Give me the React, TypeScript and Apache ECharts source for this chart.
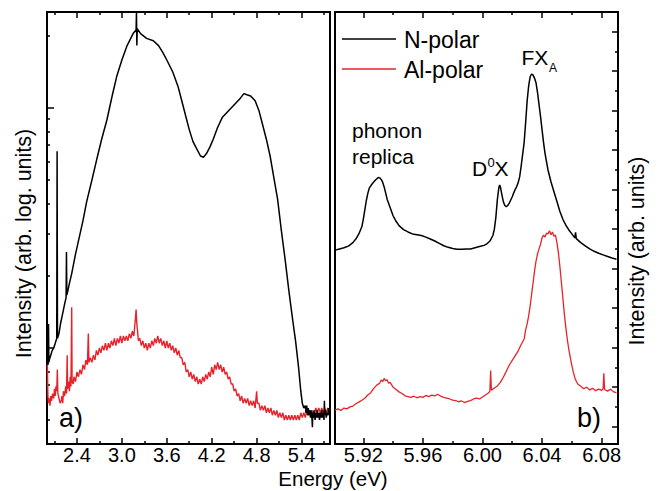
import React, { useEffect, useRef } from "react";
import * as echarts from "echarts";

// ---------- tick values ----------
const leftMajorTicks = [2.4, 3.0, 3.6, 4.2, 4.8, 5.4];
const leftMinorTicks = [2.1, 2.7, 3.3, 3.9, 4.5, 5.1, 5.7];
const rightMajorTicks = [5.92, 5.96, 6.0, 6.04, 6.08];
const rightMinorTicks = [5.94, 5.98, 6.02, 6.06];
// left panel y is in log10 units: decades at 1 and 2
const logMajorTicks = [1, 2];
const logMinorTicks = [0.699, 0.778, 0.845, 0.903, 0.954, 1.301, 1.477, 1.602, 1.699, 1.778, 1.845, 1.903, 1.954, 2.301];
const linMajorTicks = [0, 1, 2, 3, 4, 5, 6, 7, 8, 9, 10];
const linMinorTicks = [0.5, 1.5, 2.5, 3.5, 4.5, 5.5, 6.5, 7.5, 8.5, 9.5];

// ---------- data: panel a) (energy eV, log intensity) ----------
const nPolarWide: number[][] = [
  [2.005, 0.93], [2.01, 1.0], [2.015, 0.93], [2.02, 1.1], [2.025, 0.94], [2.03, 0.95], [2.05, 0.97], [2.07, 0.99],
  [2.09, 1.0], [2.11, 1.02], [2.13, 1.04], [2.135, 1.82], [2.14, 1.04], [2.16, 1.06], [2.18, 1.1], [2.2, 1.13],
  [2.22, 1.16], [2.24, 1.19], [2.255, 1.21], [2.26, 1.4], [2.265, 1.22], [2.28, 1.24], [2.3, 1.27], [2.33, 1.31],
  [2.38, 1.39], [2.43, 1.46], [2.48, 1.53], [2.53, 1.61], [2.6, 1.7], [2.66, 1.78], [2.73, 1.87], [2.8, 1.95],
  [2.87, 2.05], [2.93, 2.13], [3.0, 2.2], [3.07, 2.26], [3.15, 2.31], [3.19, 2.325], [3.195, 2.4], [3.2, 2.26],
  [3.205, 2.33], [3.25, 2.31], [3.33, 2.29], [3.42, 2.28], [3.49, 2.26], [3.55, 2.23], [3.6, 2.2], [3.68, 2.15],
  [3.75, 2.09], [3.8, 2.03], [3.85, 1.97], [3.9, 1.91], [3.95, 1.86], [4.0, 1.83], [4.05, 1.8], [4.09, 1.795],
  [4.13, 1.81], [4.18, 1.84], [4.22, 1.87], [4.28, 1.92], [4.34, 1.96], [4.4, 1.98], [4.46, 2.0], [4.52, 2.02],
  [4.58, 2.04], [4.63, 2.06], [4.67, 2.055], [4.72, 2.05], [4.78, 2.03], [4.83, 1.99], [4.88, 1.93], [4.93, 1.87],
  [4.98, 1.8], [5.03, 1.71], [5.08, 1.62], [5.13, 1.49], [5.18, 1.37], [5.23, 1.24], [5.28, 1.12], [5.32, 1.03],
  [5.36, 0.92], [5.39, 0.82], [5.41, 0.77], [5.43, 0.75], [5.45, 0.76], [5.46, 0.73], [5.47, 0.76], [5.48, 0.72],
  [5.49, 0.75], [5.5, 0.72], [5.51, 0.74], [5.52, 0.71], [5.53, 0.74], [5.54, 0.7], [5.545, 0.67], [5.55, 0.73],
  [5.56, 0.71], [5.57, 0.74], [5.58, 0.7], [5.59, 0.73], [5.6, 0.71], [5.61, 0.74], [5.62, 0.71], [5.63, 0.73],
  [5.64, 0.7], [5.65, 0.73], [5.66, 0.71], [5.67, 0.74], [5.68, 0.71], [5.69, 0.73], [5.7, 0.7], [5.705, 0.78],
  [5.71, 0.72], [5.72, 0.74], [5.73, 0.71], [5.74, 0.73], [5.75, 0.72], [5.76, 0.75], [5.77, 0.72], [5.78, 0.73],
];

const alPolarWide: number[][] = [
  [2.005, 0.93], [2.012, 0.8], [2.02, 0.77], [2.03, 0.79], [2.04, 0.76], [2.05, 0.8], [2.06, 0.78], [2.075, 0.81],
  [2.09, 0.79], [2.1, 0.83], [2.11, 0.8], [2.12, 0.84], [2.13, 0.82], [2.138, 0.91], [2.145, 0.81], [2.16, 0.79],
  [2.175, 0.77], [2.19, 0.78], [2.2, 0.8], [2.21, 0.77], [2.22, 0.82], [2.235, 0.8], [2.25, 0.84], [2.26, 0.81],
  [2.27, 0.97], [2.275, 0.83], [2.29, 0.86], [2.3, 0.82], [2.31, 0.88], [2.32, 0.84], [2.33, 1.17], [2.335, 0.86],
  [2.35, 0.85], [2.36, 0.88], [2.38, 0.86], [2.4, 0.9], [2.42, 0.88], [2.44, 0.91], [2.46, 0.89], [2.48, 0.93],
  [2.5, 0.91], [2.52, 0.95], [2.54, 0.93], [2.552, 1.06], [2.56, 0.94], [2.58, 0.96], [2.6, 0.94], [2.62, 0.97],
  [2.64, 0.95], [2.66, 0.99], [2.68, 0.97], [2.7, 1.0], [2.72, 0.98], [2.74, 1.01], [2.76, 0.99], [2.78, 1.02],
  [2.8, 0.99], [2.82, 1.02], [2.84, 1.0], [2.86, 1.03], [2.88, 1.01], [2.9, 1.04], [2.92, 1.01], [2.94, 1.04],
  [2.96, 1.02], [2.98, 1.05], [3.0, 1.02], [3.02, 1.05], [3.04, 1.03], [3.06, 1.05], [3.08, 1.03], [3.1, 1.06],
  [3.12, 1.04], [3.14, 1.07], [3.16, 1.05], [3.18, 1.12], [3.19, 1.16], [3.2, 1.1], [3.21, 1.07], [3.22, 1.03],
  [3.24, 1.04], [3.26, 1.01], [3.28, 1.03], [3.3, 1.0], [3.32, 1.02], [3.34, 0.99], [3.36, 1.02], [3.38, 1.0],
  [3.4, 1.03], [3.42, 1.01], [3.44, 1.04], [3.46, 1.02], [3.48, 1.05], [3.5, 1.02], [3.52, 1.04], [3.54, 1.01],
  [3.56, 1.03], [3.58, 1.0], [3.6, 1.03], [3.62, 1.0], [3.64, 1.02], [3.66, 0.99], [3.68, 1.01], [3.7, 0.98],
  [3.72, 1.0], [3.74, 0.97], [3.76, 0.99], [3.78, 0.96], [3.8, 0.96], [3.82, 0.93], [3.84, 0.94], [3.86, 0.9],
  [3.88, 0.91], [3.9, 0.88], [3.92, 0.9], [3.94, 0.87], [3.96, 0.89], [3.98, 0.86], [4.0, 0.88], [4.02, 0.85],
  [4.04, 0.87], [4.06, 0.85], [4.08, 0.88], [4.1, 0.86], [4.12, 0.89], [4.14, 0.87], [4.16, 0.9], [4.18, 0.88],
  [4.2, 0.92], [4.22, 0.89], [4.24, 0.93], [4.26, 0.91], [4.28, 0.94], [4.3, 0.91], [4.32, 0.93], [4.34, 0.9],
  [4.36, 0.92], [4.38, 0.89], [4.4, 0.9], [4.42, 0.87], [4.44, 0.88], [4.46, 0.85], [4.48, 0.85], [4.5, 0.82],
  [4.52, 0.83], [4.54, 0.8], [4.56, 0.81], [4.58, 0.78], [4.6, 0.8], [4.62, 0.77], [4.64, 0.79], [4.66, 0.77],
  [4.68, 0.79], [4.7, 0.76], [4.72, 0.78], [4.74, 0.76], [4.76, 0.78], [4.78, 0.75], [4.8, 0.82], [4.81, 0.77],
  [4.83, 0.77], [4.85, 0.74], [4.87, 0.76], [4.89, 0.74], [4.91, 0.76], [4.93, 0.73], [4.95, 0.75], [4.97, 0.73],
  [4.99, 0.75], [5.01, 0.72], [5.03, 0.74], [5.05, 0.72], [5.07, 0.74], [5.09, 0.71], [5.11, 0.73], [5.13, 0.71],
  [5.15, 0.73], [5.17, 0.7], [5.19, 0.72], [5.21, 0.7], [5.23, 0.72], [5.25, 0.7], [5.27, 0.72], [5.29, 0.7],
  [5.31, 0.72], [5.33, 0.7], [5.35, 0.72], [5.37, 0.7], [5.39, 0.73], [5.41, 0.71], [5.43, 0.73], [5.45, 0.71],
  [5.47, 0.74], [5.49, 0.72], [5.51, 0.74], [5.53, 0.72], [5.55, 0.74], [5.57, 0.72], [5.59, 0.75], [5.61, 0.73],
  [5.63, 0.75], [5.65, 0.73], [5.67, 0.75], [5.69, 0.73], [5.71, 0.75], [5.73, 0.73], [5.75, 0.75], [5.77, 0.74],
];

// ---------- data: panel b) (energy eV, linear intensity) ----------
const nPolarNarrow: number[][] = [
  [5.901, 4.47], [5.904, 4.5], [5.907, 4.53], [5.91, 4.57], [5.913, 4.66], [5.915, 4.75], [5.917, 4.88], [5.919, 5.06],
  [5.92, 5.25], [5.921, 5.48], [5.922, 5.72], [5.923, 5.9], [5.924, 6.04], [5.926, 6.15], [5.928, 6.24], [5.93, 6.31],
  [5.931, 6.3], [5.932, 6.26], [5.933, 6.19], [5.934, 6.07], [5.935, 5.92], [5.936, 5.76], [5.938, 5.55], [5.94, 5.34],
  [5.942, 5.2], [5.944, 5.09], [5.947, 4.99], [5.95, 4.93], [5.953, 4.88], [5.956, 4.86], [5.959, 4.84], [5.962, 4.8],
  [5.965, 4.75], [5.968, 4.7], [5.971, 4.64], [5.974, 4.58], [5.977, 4.54], [5.98, 4.51], [5.983, 4.49], [5.986, 4.49],
  [5.989, 4.5], [5.992, 4.5], [5.995, 4.53], [5.998, 4.56], [6.001, 4.59], [6.003, 4.63], [6.005, 4.7], [6.007, 4.84],
  [6.008, 5.0], [6.009, 5.3], [6.01, 5.75], [6.011, 6.05], [6.0115, 6.12], [6.012, 6.08], [6.013, 5.88], [6.014, 5.7],
  [6.015, 5.6], [6.016, 5.57], [6.017, 5.6], [6.018, 5.66], [6.019, 5.74], [6.02, 5.82], [6.021, 5.92], [6.022, 6.01],
  [6.023, 6.08], [6.024, 6.18], [6.025, 6.33], [6.026, 6.6], [6.027, 6.9], [6.028, 7.2], [6.029, 7.7], [6.03, 8.25],
  [6.031, 8.62], [6.032, 8.86], [6.033, 8.93], [6.034, 8.9], [6.035, 8.82], [6.036, 8.7], [6.037, 8.45], [6.038, 8.15],
  [6.039, 7.85], [6.04, 7.52], [6.041, 7.2], [6.042, 6.92], [6.044, 6.5], [6.046, 6.2], [6.048, 5.95], [6.05, 5.7],
  [6.052, 5.45], [6.054, 5.25], [6.056, 5.1], [6.058, 4.98], [6.06, 4.88], [6.062, 4.78], [6.0625, 4.92], [6.063, 4.76],
  [6.066, 4.66], [6.069, 4.58], [6.072, 4.5], [6.075, 4.44], [6.078, 4.39], [6.081, 4.35], [6.084, 4.31], [6.087, 4.27],
  [6.09, 4.24],
];

const alPolarNarrow: number[][] = [
  [5.901, 0.42], [5.903, 0.45], [5.905, 0.41], [5.907, 0.47], [5.909, 0.45], [5.911, 0.5], [5.913, 0.52], [5.915, 0.58],
  [5.917, 0.62], [5.919, 0.67], [5.921, 0.72], [5.923, 0.8], [5.925, 0.86], [5.927, 0.97], [5.929, 1.05], [5.931, 1.1],
  [5.932, 1.18], [5.933, 1.14], [5.934, 1.22], [5.935, 1.16], [5.936, 1.19], [5.937, 1.1], [5.938, 1.12], [5.94, 1.0],
  [5.942, 0.94], [5.944, 0.88], [5.946, 0.84], [5.948, 0.78], [5.95, 0.76], [5.952, 0.74], [5.954, 0.77], [5.956, 0.73],
  [5.958, 0.76], [5.96, 0.74], [5.962, 0.79], [5.964, 0.76], [5.966, 0.8], [5.968, 0.78], [5.97, 0.82], [5.972, 0.77],
  [5.974, 0.74], [5.976, 0.72], [5.978, 0.7], [5.98, 0.67], [5.982, 0.66], [5.984, 0.63], [5.986, 0.65], [5.988, 0.61],
  [5.99, 0.64], [5.992, 0.66], [5.994, 0.7], [5.996, 0.72], [5.998, 0.7], [6.0, 0.75], [6.002, 0.8], [6.004, 0.85],
  [6.005, 0.9], [6.0055, 1.42], [6.006, 0.92], [6.008, 0.98], [6.01, 1.03], [6.012, 1.12], [6.014, 1.25], [6.016, 1.4],
  [6.018, 1.56], [6.02, 1.68], [6.022, 1.8], [6.024, 1.92], [6.026, 2.08], [6.028, 2.22], [6.029, 2.45], [6.03, 2.6],
  [6.031, 2.8], [6.032, 3.05], [6.033, 3.35], [6.034, 3.65], [6.035, 3.95], [6.036, 4.2], [6.037, 4.38], [6.038, 4.5],
  [6.039, 4.62], [6.04, 4.78], [6.041, 4.85], [6.042, 4.8], [6.043, 4.9], [6.044, 4.88], [6.045, 4.96], [6.046, 4.86],
  [6.047, 4.93], [6.048, 4.82], [6.049, 4.85], [6.05, 4.66], [6.051, 4.4], [6.052, 4.05], [6.053, 3.65], [6.054, 3.25],
  [6.055, 2.85], [6.056, 2.5], [6.057, 2.2], [6.058, 1.95], [6.059, 1.75], [6.06, 1.55], [6.061, 1.38], [6.062, 1.24],
  [6.063, 1.15], [6.064, 1.08], [6.066, 1.02], [6.068, 0.96], [6.07, 1.0], [6.072, 0.93], [6.074, 0.97], [6.076, 0.91],
  [6.078, 0.95], [6.08, 0.92], [6.081, 0.96], [6.0815, 1.35], [6.082, 0.94], [6.084, 0.9], [6.086, 0.95], [6.088, 0.88],
  [6.09, 0.86],
];

const seriesNames = ["N-polar", "Al-polar"];
const seriesColors = ["#000000", "#e8222a"];

const FONT = "'Liberation Sans', Arial, sans-serif";

function xAx(gridIndex: number, min: number, max: number, position: string, ticks: number[], len: number, labels: boolean, dec: number) {
  return {
    type: "value",
    gridIndex,
    min,
    max,
    position,
    axisLine: { show: false, onZero: false },
    splitLine: { show: false },
    axisTick: { show: true, inside: true, length: len, customValues: ticks, lineStyle: { color: "#000", width: 1.5 } },
    axisLabel: {
      show: labels,
      customValues: ticks,
      formatter: (v: number) => v.toFixed(dec),
      color: "#000",
      fontSize: 20,
      fontFamily: FONT,
      margin: 1,
    },
  };
}

function yAx(gridIndex: number, min: number, max: number, position: string, ticks: number[], len: number) {
  return {
    type: "value",
    gridIndex,
    min,
    max,
    position,
    axisLine: { show: false, onZero: false },
    splitLine: { show: false },
    axisTick: { show: true, inside: true, length: len, customValues: ticks, lineStyle: { color: "#000", width: 1.5 } },
    axisLabel: { show: false },
  };
}

export default function App() {
  const ref = useRef<HTMLDivElement>(null);

  useEffect(() => {
    document.body.style.margin = "0";
    if (!ref.current) return;
    const chart = echarts.init(ref.current, null, { renderer: "svg" });

    const txt = (text: string, x: number, y: number, fontSize: number, extra: any = {}, align = "left") => ({
      type: "text",
      x,
      y,
      ...extra,
      style: { text, fontSize, fontFamily: FONT, fill: "#000", verticalAlign: "middle", align },
    });

    chart.setOption({
      animation: false,
      backgroundColor: "#fff",
      grid: [
        { left: 47, top: 12, width: 283, height: 432, show: true, borderColor: "#000", borderWidth: 2, backgroundColor: "transparent" },
        { left: 335, top: 12, width: 283, height: 432, show: true, borderColor: "#000", borderWidth: 2, backgroundColor: "transparent" },
      ],
      xAxis: [
        xAx(0, 2.0, 5.78, "bottom", leftMajorTicks, 6, true, 1),
        xAx(0, 2.0, 5.78, "bottom", leftMinorTicks, 3, false, 1),
        xAx(0, 2.0, 5.78, "top", leftMajorTicks, 6, false, 1),
        xAx(0, 2.0, 5.78, "top", leftMinorTicks, 3, false, 1),
        xAx(1, 5.901, 6.091, "bottom", rightMajorTicks, 6, true, 2),
        xAx(1, 5.901, 6.091, "bottom", rightMinorTicks, 3, false, 2),
        xAx(1, 5.901, 6.091, "top", rightMajorTicks, 6, false, 2),
        xAx(1, 5.901, 6.091, "top", rightMinorTicks, 3, false, 2),
      ],
      yAxis: [
        yAx(0, 0.6, 2.4, "left", logMajorTicks, 7),
        yAx(0, 0.6, 2.4, "left", logMinorTicks, 3),
        yAx(1, -0.44, 10.5, "right", linMajorTicks, 6),
        yAx(1, -0.44, 10.5, "right", linMinorTicks, 3),
      ],
      series: [
        { name: seriesNames[1], type: "line", xAxisIndex: 0, yAxisIndex: 0, data: alPolarWide, symbol: "none", lineStyle: { color: seriesColors[1], width: 1.4 } },
        { name: seriesNames[0], type: "line", xAxisIndex: 0, yAxisIndex: 0, data: nPolarWide, symbol: "none", lineStyle: { color: seriesColors[0], width: 1.5 } },
        { name: seriesNames[1], type: "line", xAxisIndex: 4, yAxisIndex: 2, data: alPolarNarrow, symbol: "none", lineStyle: { color: seriesColors[1], width: 1.3 } },
        { name: seriesNames[0], type: "line", xAxisIndex: 4, yAxisIndex: 2, data: nPolarNarrow, symbol: "none", lineStyle: { color: seriesColors[0], width: 1.5 } },
      ],
      graphic: [
        // legend
        { type: "line", shape: { x1: 342, y1: 39, x2: 396, y2: 39 }, style: { stroke: seriesColors[0], lineWidth: 1.5 } },
        txt(seriesNames[0], 404, 40, 23),
        { type: "line", shape: { x1: 342, y1: 69, x2: 396, y2: 69 }, style: { stroke: seriesColors[1], lineWidth: 1.5 } },
        txt(seriesNames[1], 404, 70, 23),
        // annotations
        txt("phonon", 352, 130, 21),
        txt("replica", 352, 156, 21),
        txt("D", 472, 168.5, 21),
        txt("0", 487.5, 162, 13),
        txt("X", 494.5, 168.5, 21),
        txt("FX", 521.5, 57.5, 21),
        txt("A", 549, 68, 12),
        txt("a)", 59, 418, 27),
        txt("b)", 577, 418, 27),
        // axis titles
        txt("Energy (eV)", 333, 478.5, 20.5, {}, "center"),
        txt("Intensity (arb. log. units)", 23.5, 243.5, 21.5, { rotation: Math.PI / 2 }, "center"),
        txt("Intensity (arb. units)", 637, 251, 21.5, { rotation: Math.PI / 2 }, "center"),
      ],
    });

    return () => chart.dispose();
  }, []);

  return <div ref={ref} style={{ width: 658, height: 491 }} />;
}
